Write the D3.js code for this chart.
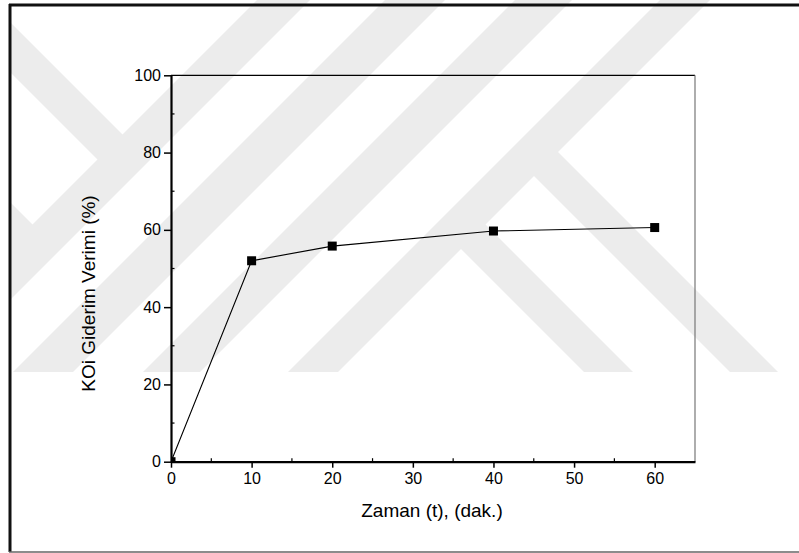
<!DOCTYPE html>
<html>
<head>
<meta charset="utf-8">
<script src="https://cdn.jsdelivr.net/npm/d3@7"></script>
<style>
  html, body { margin: 0; padding: 0; background: #fff; }
  svg { display: block; }
  text { font-family: "Liberation Sans", Arial, Helvetica, sans-serif; fill: #000; }
</style>
</head>
<body>
<svg id="chart" width="799" height="553"></svg>
<script>
// ---- data ----
const timeValues = [0, 10, 20, 40, 60];
const removalValues = [0, 52.0, 55.8, 59.7, 60.6];
const xTickValues = [0, 10, 20, 30, 40, 50, 60];
const xMinorTickValues = [5, 15, 25, 35, 45, 55];
const yTickValues = [0, 20, 40, 60, 80, 100];
const yMinorTickValues = [10, 30, 50, 70, 90];
const xTitle = "Zaman (t), (dak.)";
const yTitle = "KOi Giderim Verimi (%)";

(function () {
const W = 799, H = 553;
const svg = d3.select("#chart");

// ---- watermark (light gray diagonal bands) ----
const wmTop = 0, wmBottom = 372;
const defs = svg.append("defs");
defs.append("clipPath").attr("id", "wmclip")
  .append("rect").attr("x", 10).attr("y", 0).attr("width", W - 10).attr("height", wmBottom);
const wm = svg.append("g").attr("clip-path", "url(#wmclip)").attr("fill", "#ececec");
function slashBand(a, b) {
  return [[a, wmTop], [b, wmTop], [b - wmBottom, wmBottom], [a - wmBottom, wmBottom]];
}
function backBandDown(c, d, s) {
  return [[(s + c) / 2, (s - c) / 2], [(s + d) / 2, (s - d) / 2], [wmBottom + d, wmBottom], [wmBottom + c, wmBottom]];
}
function backBandUp(c, d, s) {
  return [[(s + c) / 2, (s - c) / 2], [(s + d) / 2, (s - d) / 2], [0, -d], [0, -c]];
}
const bands = [
  slashBand(257, 310),
  slashBand(385, 445),
  slashBand(515, 572),
  slashBand(660, 710),
  backBandDown(212, 261, 680),
  backBandDown(358, 406, 680),
  backBandUp(-62, -12, 280),
  backBandUp(-240, -192, 280)
];
wm.selectAll("polygon").data(bands).join("polygon")
  .attr("points", d => d.map(p => p.join(",")).join(" "));

// ---- outer frame ----
svg.append("line").attr("x1", 9).attr("x2", W).attr("y1", 5).attr("y2", 5)
  .attr("stroke", "#111").attr("stroke-width", 3);
svg.append("line").attr("x1", 10).attr("x2", 10).attr("y1", 4).attr("y2", 552)
  .attr("stroke", "#111").attr("stroke-width", 3);
svg.append("line").attr("x1", 9).attr("x2", W).attr("y1", 552).attr("y2", 552)
  .attr("stroke", "#666").attr("stroke-width", 1.5);

// ---- plot ----
const pLeft = 171, pRight = 695, pTop = 75.3, pBottom = 461.7;
const x = d3.scaleLinear().domain([0, 65]).range([pLeft, pRight]);
const y = d3.scaleLinear().domain([0, 100]).range([pBottom, pTop]);

svg.append("line").attr("x1", pLeft).attr("x2", pRight).attr("y1", pTop).attr("y2", pTop)
  .attr("stroke", "#000").attr("stroke-width", 1.2);
svg.append("line").attr("x1", pRight).attr("x2", pRight).attr("y1", pTop).attr("y2", pBottom)
  .attr("stroke", "#777").attr("stroke-width", 1.2);

const xAxis = svg.append("g").attr("transform", `translate(0,${pBottom})`)
  .call(d3.axisBottom(x).tickValues(xTickValues).tickSize(6).tickSizeOuter(0).tickPadding(5).tickFormat(d3.format("d")));
xAxis.select(".domain").attr("stroke", "#000").attr("stroke-width", 2.2);
xAxis.selectAll(".tick line").attr("stroke", "#000").attr("stroke-width", 1.5);
xAxis.selectAll(".tick text").attr("font-size", 16).attr("font-family", '"Liberation Sans", Arial, sans-serif').attr("fill", "#000");
svg.append("g").selectAll("line").data(xMinorTickValues).join("line")
  .attr("x1", d => x(d)).attr("x2", d => x(d)).attr("y1", pBottom).attr("y2", pBottom - 3.5)
  .attr("stroke", "#000").attr("stroke-width", 1.2);

const yAxis = svg.append("g").attr("transform", `translate(${pLeft},0)`)
  .call(d3.axisLeft(y).tickValues(yTickValues).tickSize(7).tickSizeOuter(0).tickPadding(3).tickFormat(d3.format("d")));
yAxis.select(".domain").attr("stroke", "#000").attr("stroke-width", 2.2);
yAxis.selectAll(".tick line").attr("stroke", "#000").attr("stroke-width", 1.5);
yAxis.selectAll(".tick text").attr("font-size", 16).attr("font-family", '"Liberation Sans", Arial, sans-serif').attr("fill", "#000");
svg.append("g").selectAll("line").data(yMinorTickValues).join("line")
  .attr("x1", pLeft).attr("x2", pLeft + 3.5).attr("y1", d => y(d)).attr("y2", d => y(d))
  .attr("stroke", "#000").attr("stroke-width", 1.2);

svg.append("text").attr("x", 432).attr("y", 517).attr("text-anchor", "middle")
  .attr("font-size", 19).text(xTitle);
svg.append("text").attr("transform", "translate(95,293.5) rotate(-90)").attr("text-anchor", "middle")
  .attr("font-size", 19).text(yTitle);

defs.append("clipPath").attr("id", "plotclip")
  .append("rect").attr("x", pLeft).attr("y", pTop - 10).attr("width", pRight - pLeft + 10).attr("height", pBottom - pTop + 10);
const pts = timeValues.map((t, i) => ({ t, v: removalValues[i] }));
const g = svg.append("g").attr("clip-path", "url(#plotclip)");
g.append("path").datum(pts)
  .attr("d", d3.line().x(d => x(d.t)).y(d => y(d.v)))
  .attr("fill", "none").attr("stroke", "#000").attr("stroke-width", 1.1);
const ms = 9;
g.selectAll("rect.m").data(pts).join("rect").attr("class", "m")
  .attr("x", d => x(d.t) - ms / 2).attr("y", d => y(d.v) - ms / 2)
  .attr("width", ms).attr("height", ms).attr("fill", "#000");
})();
</script>
</body>
</html>
